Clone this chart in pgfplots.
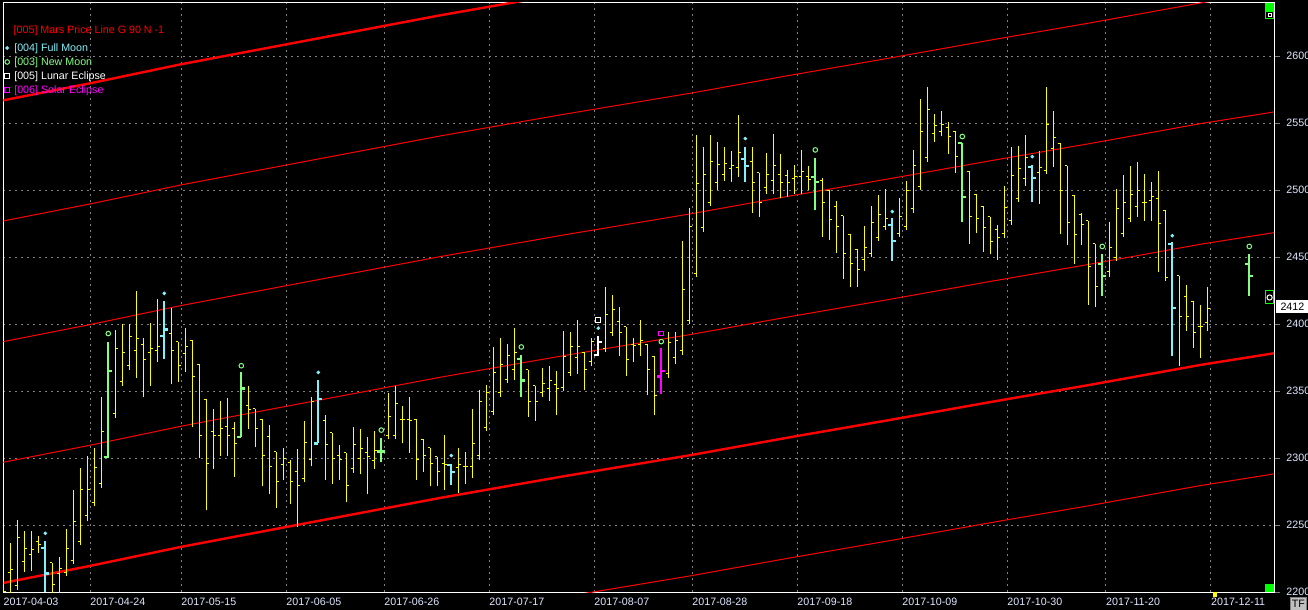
\documentclass[border=0pt]{standalone}
\usepackage{pgfplots}
\usepackage{pgfplotstable}
\pgfplotsset{compat=1.18}
\usepackage{fontspec}
\setmainfont{Liberation Sans}
\definecolor{ylw}{RGB}{255,255,0}
\definecolor{fm}{RGB}{128,240,250}
\definecolor{nm}{RGB}{128,255,128}
\definecolor{mag}{RGB}{255,0,255}
\definecolor{gridc}{RGB}{128,128,128}
\definecolor{lbl}{RGB}{222,232,255}
\definecolor{mred}{RGB}{255,0,0}
\definecolor{tfg}{RGB}{192,192,192}
\definecolor{grn}{RGB}{0,255,0}
\newcommand{\fs}{\fontsize{5.35pt}{6.4pt}\selectfont}

% yellow OHLC bars: index, open, high, low, close
\pgfplotstableread{
i o h l c
0 2205 2209 2200.2 2200.5
1 2215 2237 2200.2 2217
2 2205 2254 2205 2241
3 2223 2246 2218 2233
4 2228 2246 2219 2232
5 2238 2242 2232 2236
7 2222 2222 2200.2 2206
8 2214 2226 2202 2218
9 2215 2247 2215 2233
10 2224 2276 2224 2253
11 2238 2293 2238 2277
12 2257 2302 2256 2277
13 2267 2308 2267 2293
14 2281 2346 2281 2320
16 2333 2396 2333 2382
17 2357 2400 2357 2379
18 2369 2400 2369 2391
19 2380 2425 2363 2389
20 2385 2390 2349 2374
21 2379 2401 2357 2382
22 2380 2419 2375 2383
24 2393 2412 2358 2380
25 2387 2387 2360 2369
26 2378 2397 2367 2383
27 2388 2388 2326 2361
28 2370 2370 2303 2317
29 2344 2344 2264 2296
30 2320 2337 2295 2317
31 2317 2343 2305 2322
32 2324 2345 2305 2317
33 2322 2327 2289 2311
35 2339 2354 2325 2336
36 2337 2337 2311 2322
37 2329 2329 2282 2302
38 2316 2325 2276 2294
39 2305 2305 2266 2283
40 2295 2308 2287 2300
41 2297 2299 2269 2283
42 2290 2307 2252 2280
43 2285 2328 2285 2312
44 2299 2346 2297 2342
46 2328 2332 2287 2310
47 2319 2319 2284 2300
48 2302 2310 2287 2299
49 2304 2304 2270 2280
50 2292 2323 2292 2310
51 2300 2322 2291 2307
52 2304 2316 2276 2301
53 2298 2320 2295 2306
55 2317 2349 2317 2331
56 2317 2354 2317 2341
57 2329 2339 2314 2329
58 2329 2346 2307 2328
59 2329 2329 2287 2299
60 2314 2314 2293 2302
61 2308 2308 2282 2296
62 2301 2301 2282 2290
63 2296 2317 2279 2295
65 2293 2308 2277 2295
66 2294 2305 2284 2294
67 2294 2337 2288 2311
68 2302 2351 2302 2342
69 2323 2355 2323 2349
70 2335 2383 2335 2364
71 2349 2390 2349 2370
72 2359 2385 2359 2377
73 2366 2397 2361 2379
75 2366 2366 2334 2342
76 2354 2354 2331 2342
77 2349 2367 2349 2356
78 2352 2369 2346 2358
79 2355 2365 2335 2352
80 2353 2395 2353 2376
81 2364 2394 2364 2383
82 2375 2403 2366 2383
83 2379 2379 2354 2366
84 2372 2390 2372 2387
86 2382 2428 2382 2407
87 2394 2422 2394 2411
88 2402 2413 2379 2394
89 2398 2398 2364 2374
90 2385 2390 2375 2384
91 2385 2403 2379 2388
92 2385 2385 2350 2366
93 2376 2376 2335 2347
95 2363 2394 2363 2386
96 2375 2394 2373 2388
97 2380 2462 2380 2426
98 2403 2487 2403 2473
99 2438 2541 2438 2505
100 2472 2532 2472 2512
101 2491 2541 2491 2521
102 2506 2536 2503 2519
103 2512 2532 2510 2520
104 2516 2529 2509 2518
105 2517 2556 2513 2528
107 2521 2532 2486 2506
108 2513 2513 2483 2491
109 2502 2528 2500 2512
110 2507 2542 2500 2518
111 2512 2527 2497 2506
112 2511 2515 2498 2506
113 2509 2519 2500 2510
114 2510 2530 2500 2514
115 2510 2518 2503 2508
117 2507 2509 2468 2491
118 2500 2500 2466 2478
119 2488 2492 2456 2473
120 2481 2481 2437 2453
121 2467 2467 2431 2445
122 2456 2456 2431 2441
123 2448 2473 2443 2457
124 2453 2488 2453 2476
125 2465 2496 2465 2482
126 2473 2501 2473 2479
128 2468 2494 2468 2480
129 2473 2507 2473 2500
130 2486 2530 2486 2518
131 2503 2568 2503 2544
132 2524 2577 2524 2560
133 2542 2557 2539 2548
134 2544 2559 2543 2549
135 2547 2551 2530 2540
136 2544 2544 2516 2525
138 2514 2514 2463 2480
139 2497 2497 2471 2479
140 2488 2488 2457 2472
141 2480 2480 2455 2462
142 2471 2474 2451 2465
143 2468 2503 2467 2487
144 2477 2532 2477 2511
145 2494 2533 2494 2516
146 2509 2541 2506 2524
148 2513 2529 2493 2517
149 2515 2577 2515 2549
150 2531 2559 2520 2539
151 2535 2535 2470 2500
152 2518 2518 2462 2476
153 2496 2496 2448 2467
154 2482 2483 2462 2474
155 2477 2477 2417 2443
156 2460 2460 2416 2428
158 2439 2476 2438 2457
159 2450 2501 2450 2486
160 2468 2511 2468 2491
161 2479 2518 2479 2497
162 2488 2521 2483 2500
163 2491 2512 2480 2491
164 2492 2506 2480 2495
165 2494 2514 2442 2475
166 2485 2485 2435 2435
168 2436 2436 2372 2406
169 2421 2429 2398 2406
170 2417 2417 2385 2394
171 2398 2414 2378 2398
172 2401 2428 2398 2412
}\ybars

% full moon bars (m = marker)
\pgfplotstableread{
i o h l c m
6 2233 2238 2200.2 2214 2244
23 2391 2417 2374 2396 2423
45 2311 2358 2311 2344 2364
64 2295 2296 2280 2290 2302
106 2523 2532 2506 2518 2538.5
127 2474 2479 2447 2462 2484
147 2517 2519 2491 2509 2525
167 2460 2461 2376 2412 2466
}\fmbars

% new moon bars
\pgfplotstableread{
i o h l c m
15 2301 2387 2300 2365 2393
34 2316 2364 2316 2352 2369
54 2305 2315 2297 2305 2321
74 2374 2377 2346 2358 2383
116 2510 2524 2485 2506 2530
137 2535 2535 2476 2495 2540
157 2445 2452 2421 2436 2458
178 2445 2452 2421 2436 2458
}\nmbars

% lunar eclipse bar (m = full moon dot, sq = eclipse square)
\pgfplotstableread{
i o h l c m sq
85 2377 2391 2376 2387 2397 2403
}\lunar

% solar eclipse bar (m = new moon circle, sq = eclipse square)
\pgfplotstableread{
i o h l c m sq
94 2361 2382 2348 2365 2387 2393
}\solar

% Mars price lines (spacing 90)
\pgfplotstableread{
i L1 L2 L3 L4 L5 L6
-1 2566 2476 2386 2296 2206 2116
0 2567 2477 2387 2297 2207 2117
12.4 2579.7 2489.7 2399.7 2309.7 2219.7 2129.7
25.4 2593.9 2503.9 2413.9 2323.9 2233.9 2143.9
40.5 2608.8 2518.8 2428.8 2338.8 2248.8 2158.8
62.4 2630.4 2540.4 2450.4 2360.4 2270.4 2180.4
80 2646.5 2556.5 2466.5 2376.5 2286.5 2196.5
98.4 2662.5 2572.5 2482.5 2392.5 2302.5 2212.5
112 2675.3 2585.3 2495.3 2405.3 2315.3 2225.3
126.7 2688.6 2598.6 2508.6 2418.6 2328.6 2238.6
141 2701.9 2611.9 2521.9 2431.9 2341.9 2251.9
155.2 2714.7 2624.7 2534.7 2444.7 2354.7 2264.7
171 2729.6 2639.6 2549.6 2459.6 2369.6 2279.6
182 2738.7 2648.7 2558.7 2468.7 2378.7 2288.7
}\mars

% OHLC bar marks: drawn at (i, low); offsets in pt from visualization data
\pgfdeclareplotmark{ohlcY}{%
  \pgfpathmoveto{\pgfqpoint{0pt}{-2pt}}%
  \pgfpathlineto{\pgfqpoint{0pt}{\ohlcH pt}}%
  \pgfpathmoveto{\pgfqpoint{-1.3pt}{\ohlcO pt}}%
  \pgfpathlineto{\pgfqpoint{0pt}{\ohlcO pt}}%
  \pgfpathmoveto{\pgfqpoint{0pt}{\ohlcC pt}}%
  \pgfpathlineto{\pgfqpoint{1.3pt}{\ohlcC pt}}%
  \pgfusepathqstroke}
\pgfdeclareplotmark{ohlcM}{%
  \pgfpathmoveto{\pgfqpoint{0pt}{0pt}}%
  \pgfpathlineto{\pgfqpoint{0pt}{\ohlcH pt}}%
  \pgfpathmoveto{\pgfqpoint{-1.9pt}{\ohlcO pt}}%
  \pgfpathlineto{\pgfqpoint{0pt}{\ohlcO pt}}%
  \pgfpathmoveto{\pgfqpoint{0pt}{\ohlcC pt}}%
  \pgfpathlineto{\pgfqpoint{1.9pt}{\ohlcC pt}}%
  \pgfusepathqstroke}

\pgfplotsset{
  ohlc/.style n args={3}{scatter, only marks, forget plot, mark=#1,
    scatter/use mapped color={draw=#2, fill=#2},
    mark options={solid, line width=#3},
    visualization depends on={(\thisrow{h}-\thisrow{l})*0.670268 \as \ohlcH},
    visualization depends on={(\thisrow{o}-\thisrow{l})*0.670268 \as \ohlcO},
    visualization depends on={(\thisrow{c}-\thisrow{l})*0.670268 \as \ohlcC}},
  lgimg/.style={legend image code/.code={\path (0pt,0pt) (3.4pt,0pt); \draw[##1] plot coordinates {(1.7pt,0pt)};}},
}

\begin{document}
\begin{tikzpicture}
\useasboundingbox (0,0) rectangle (654pt,305pt);
\fill[black] (0,0) rectangle (654pt,305pt);
\begin{axis}[
  at={(1.65pt,8.85pt)}, anchor=south west,
  scale only axis, width=635.35pt, height=294.65pt,
  xmin=0, xmax=181.53, ymin=2200, ymax=2639.6,
  axis background/.style={fill=black},
  axis line style={white, line width=0.5pt},
  clip mode=individual, clip marker paths=true,
  xtick={0,12.4,25.4,40.4,54.4,69.4,84.4,98.4,113.4,128.4,143.4,157.5,172.5},
  xticklabels={2017-04-03,2017-04-24,2017-05-15,2017-06-05,2017-06-26,2017-07-17,2017-08-07,2017-08-28,2017-09-18,2017-10-09,2017-10-30,2017-11-20,2017-12-11},
  xticklabel style={anchor=north west, inner sep=0pt, yshift=0.3pt, text=lbl, font=\fs},
  xtick style={draw=none},
  ytick={2200,2250,2300,2350,2400,2450,2500,2550,2600},
  yticklabels={2200,2250,2300,2350,2400,2450,2500,2550,2600},
  ytick pos=right, yticklabel pos=right,
  tick align=outside, major tick length=3pt,
  ytick style={gridc, line width=0.5pt},
  yticklabel style={anchor=west, inner sep=0pt, xshift=3pt, text=lbl, font=\fs},
  grid=major,
  major grid style={gridc, dash pattern=on 1pt off 2pt, line width=0.5pt},
  legend style={at={(rel axis cs:0,1)}, anchor=north west, yshift=-19pt,
    draw=none, fill=none, inner sep=0pt, outer sep=0pt, row sep=0pt, column sep=1.6pt,
    font=\fs, nodes={inner sep=0pt, outer sep=0pt, text height=5.4pt, text depth=1.6pt}},
  legend cell align=left,
]
% Mars price lines
\addplot[mred, line width=1.2pt, mark=none, forget plot] table[x=i, y=L1] {\mars};
\addplot[mred, line width=0.5pt, mark=none, forget plot] table[x=i, y=L2] {\mars};
\addplot[mred, line width=0.5pt, mark=none, forget plot] table[x=i, y=L3] {\mars};
\addplot[mred, line width=0.5pt, mark=none, forget plot] table[x=i, y=L4] {\mars};
\addplot[mred, line width=1.2pt, mark=none, forget plot] table[x=i, y=L5] {\mars};
\addplot[mred, line width=0.5pt, mark=none, forget plot] table[x=i, y=L6] {\mars};

% OHLC bars
\addplot[ohlc={ohlcY}{ylw}{0.5pt}] table[x=i, y=l] {\ybars};
\addplot[ohlc={ohlcM}{fm}{1.1pt}] table[x=i, y=l] {\fmbars};
\addplot[ohlc={ohlcM}{nm}{1.1pt}] table[x=i, y=l] {\nmbars};
\addplot[ohlc={ohlcM}{white}{1.1pt}] table[x=i, y=l] {\lunar};
\addplot[ohlc={ohlcM}{mag}{1.1pt}] table[x=i, y=l] {\solar};

% markers (with legend)
\addplot[only marks, mark=*, mark size=0.7pt, draw=fm, fill=fm, lgimg] table[x=i, y=m] {\fmbars};
\addlegendentry{\textcolor{fm}{[004] Full Moon}}
\addplot[only marks, mark=o, mark size=1.15pt, draw=nm, line width=0.5pt, lgimg] table[x=i, y=m] {\nmbars};
\addlegendentry{\textcolor{nm}{[003] New Moon}}
\addplot[only marks, mark=square, mark size=1.15pt, draw=white, line width=0.5pt, lgimg] table[x=i, y=sq] {\lunar};
\addlegendentry{\textcolor{white}{[005] Lunar Eclipse}}
\addplot[only marks, mark=square, mark size=1.15pt, draw=mag, line width=0.5pt, lgimg] table[x=i, y=sq] {\solar};
\addlegendentry{\textcolor{mag}{[006] Solar Eclipse}}
\addplot[only marks, mark=*, mark size=0.7pt, draw=fm, fill=fm, forget plot] table[x=i, y=m] {\lunar};
\addplot[only marks, mark=o, mark size=1.15pt, draw=nm, line width=0.5pt, forget plot] table[x=i, y=m] {\solar};

% last price label
\node[fill=white, text=black, anchor=west, inner sep=0pt, minimum width=16pt, minimum height=6.5pt, font=\fs, xshift=1pt, yshift=0.75pt] at (axis cs:181.53,2412) {2412};
\end{axis}
\node[anchor=west, inner sep=0pt, text=mred, font=\fs] at (6.65pt,289.65pt) {[005] Mars Price Line G 90 N -1};
% chart decorations
\fill[grn] (632.6pt,299.65pt) rectangle (637pt,303.4pt);
\draw[grn, fill=black, line width=0.5pt] (632.85pt,295.6pt) rectangle (636.75pt,299.3pt);
\draw[white, line width=0.5pt] (634.1pt,296.8pt) rectangle (635.5pt,298.1pt);
\fill[grn] (632.6pt,8.85pt) rectangle (637pt,13pt);
\draw[grn, fill=black, line width=0.5pt] (632.85pt,153pt) rectangle (636.75pt,159.5pt);
\draw[white, line width=0.5pt] (634.8pt,156.25pt) circle (1.3pt);
\fill[ylw] (606.3pt,6.6pt) rectangle (608.6pt,8.85pt);
\draw[gray, fill=tfg, line width=0.5pt] (645.3pt,-1pt) rectangle (653pt,6.2pt);
\node[text=black, inner sep=0pt, font=\fs] at (649.15pt,3pt) {TF};
\end{tikzpicture}
\end{document}
